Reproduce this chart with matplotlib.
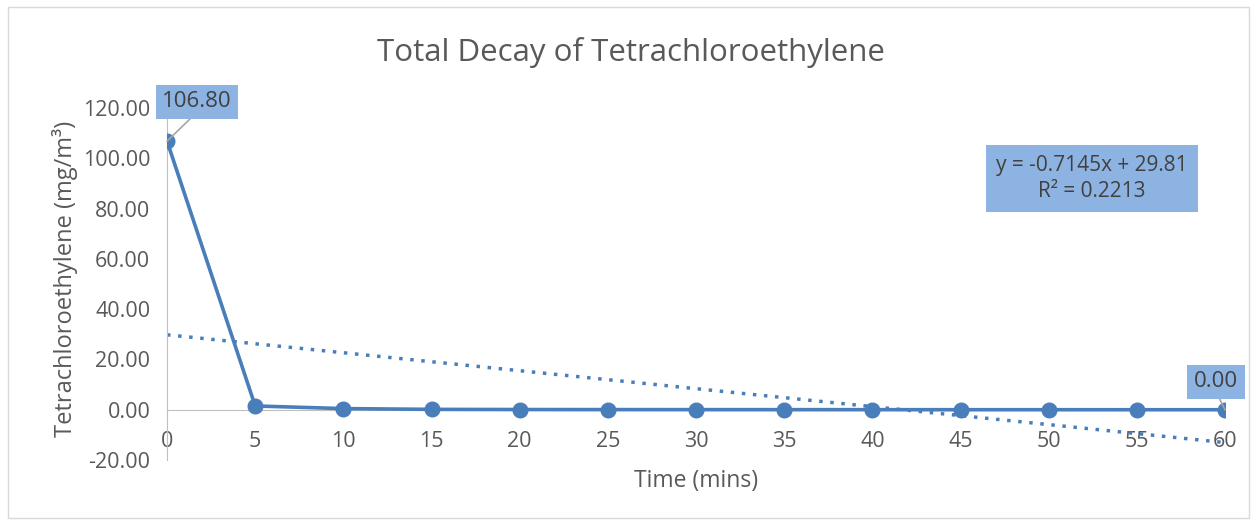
import matplotlib
matplotlib.use("Agg")
import matplotlib.pyplot as plt
import numpy as np

# data
time_mins = [0, 5, 10, 15, 20, 25, 30, 35, 40, 45, 50, 55, 60]
conc = [106.80, 1.50, 0.45, 0.15, 0.08, 0.05, 0.04, 0.03, 0.02, 0.01, 0.01, 0.00, 0.00]
trend_slope = -0.7145
trend_intercept = 29.81
trend_text = "y = -0.7145x + 29.81\nR² = 0.2213"
y_ticks = [-20, 0, 20, 40, 60, 80, 100, 120]

blue = "#4A7EBB"
box_blue = "#8DB3E2"
text_gray = "#595959"
axis_gray = "#BFBFBF"

plt.rcParams["font.family"] = ["Open Sans", "DejaVu Sans"]

fig = plt.figure(figsize=(12.54, 5.24), dpi=100)
fig.patches.append(plt.Rectangle((0.006, 0.012), 0.99, 0.975, transform=fig.transFigure,
                                 fill=False, edgecolor="#D9D9D9", linewidth=1))
ax = fig.add_axes([0.1332, 0.1221, 0.8437, 0.6718])

x = np.array(time_mins)
ax.plot(x, trend_slope * x + trend_intercept, linestyle=(0, (1, 2.2)), color=blue,
        linewidth=2.5, zorder=2)
ax.plot(time_mins, conc, color=blue, linewidth=2.6, marker="o", markersize=10.5, zorder=3)

ax.set_xlim(0, 60)
ax.set_ylim(-20, 120)
ax.set_yticks(y_ticks)
ax.set_yticklabels([f"{v:.2f}" for v in y_ticks])
ax.set_xticks(time_mins)

for side in ["top", "right"]:
    ax.spines[side].set_visible(False)
ax.spines["bottom"].set_position(("data", 0))
ax.spines["bottom"].set_color(axis_gray)
ax.spines["left"].set_color(axis_gray)
ax.spines["bottom"].set_zorder(1)
ax.tick_params(axis="x", length=0, pad=15, labelsize=15.5, labelcolor=text_gray)
ax.tick_params(axis="y", length=0, pad=12, labelsize=15.5, labelcolor=text_gray)

fig.text(0.503, 0.9, "Total Decay of Tetrachloroethylene", ha="center", va="center",
         fontsize=22.5, color=text_gray)
ax.set_ylabel("Tetrachloroethylene (mg/m³)", fontsize=17, color=text_gray)
ax.yaxis.set_label_coords(-0.0964, 0.515)
ax.yaxis.label.set_va("center")
ax.set_xlabel("Time (mins)", fontsize=16.5, color=text_gray)
ax.xaxis.set_label_coords(0.5, -0.06)
ax.xaxis.label.set_va("center")

bbox = dict(boxstyle="square,pad=0.3", facecolor=box_blue, edgecolor="none")
leader = dict(arrowstyle="-", color="#A6A6A6", linewidth=1.2, shrinkA=0, shrinkB=0,
              relpos=(0.5, 0))
ax.annotate(f"{conc[0]:.2f}", xy=(time_mins[0], conc[0]), xytext=(1.7, 122.5),
            textcoords="data", ha="center", va="center", fontsize=16, color="#404040",
            bbox=bbox, annotation_clip=False, arrowprops=leader)
ax.annotate(f"{conc[-1]:.2f}", xy=(time_mins[-1], conc[-1]), xytext=(59.5, 11.1),
            textcoords="data", ha="center", va="center", fontsize=16, color="#404040",
            bbox=bbox, annotation_clip=False, arrowprops=leader)
ax.text(52.46, 91.9, trend_text, ha="center", va="center", fontsize=15, color="#404040",
        linespacing=1.3, bbox=dict(boxstyle="square,pad=0.5", facecolor=box_blue, edgecolor="none"))

fig.savefig("out.png", dpi=100)
